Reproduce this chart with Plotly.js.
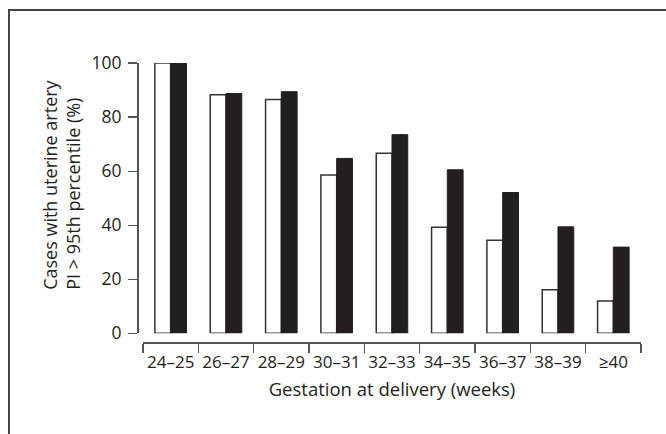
<!DOCTYPE html>
<html>
<head>
<meta charset="utf-8">
<script src="https://cdn.plot.ly/plotly-3.0.1.min.js"></script>
<style>
html,body{margin:0;padding:0;background:#fff;}
#wrap{position:relative;width:666px;height:434px;}
#chart{width:666px;height:434px;}
#frame{position:absolute;left:8px;top:9px;right:0;bottom:0;border-left:2px solid #444;border-top:2px solid #444;pointer-events:none;}
</style>
</head>
<body>
<div id="wrap"><div id="chart"></div><div id="frame"></div></div>
<script>
const categories = ["24–25","26–27","28–29","30–31","32–33","34–35","36–37","38–39","≥40"];
const whiteValues = [100, 88.3, 86.5, 58.6, 66.6, 39.2, 34.4, 16.1, 12.0];
const blackValues = [100, 88.7, 89.4, 64.7, 73.5, 60.5, 52.1, 39.4, 31.9];
const yTicks = [0, 20, 40, 60, 80, 100];
const xTitle = "Gestation at delivery (weeks)";
const yTitle = "Cases with uterine artery<br>PI > 95th percentile (%)";

const tickFont = {family: "Open Sans, Noto Sans, sans-serif", size: 17, color: "#231f20"};
const titleFont = {family: "Open Sans, Noto Sans, sans-serif", size: 18.5, color: "#231f20"};

const traces = [
  {type: "bar", x: categories, y: whiteValues, name: "A",
   marker: {color: "#ffffff", line: {color: "#333333", width: 1.5}}},
  {type: "bar", x: categories, y: blackValues, name: "B",
   marker: {color: "#231f20", line: {color: "#231f20", width: 1}}}
];

const layout = {
  width: 666, height: 434,
  margin: {l: 137, r: 25, t: 63, b: 92},
  paper_bgcolor: "#fff", plot_bgcolor: "#fff",
  showlegend: false,
  barmode: "group", bargap: 0.43, bargroupgap: 0,
  font: tickFont,
  xaxis: {
    type: "category",
    domain: [0.0119, 1],
    range: [-0.5, 8.5],
    anchor: "free", position: 0,
    showline: true, linecolor: "#555", linewidth: 1.5,
    ticks: "outside", ticklen: 9, tickcolor: "#555", tickwidth: 1.2,
    tickson: "boundaries",
    tickangle: 0,
    ticklabelstandoff: 4,
    showgrid: false, zeroline: false,
    tickfont: tickFont,
    title: {text: xTitle, font: titleFont, standoff: 11}
  },
  yaxis: {
    domain: [0.031, 1],
    range: [0, 100],
    anchor: "free", position: 0,
    tickvals: yTicks,
    showline: true, linecolor: "#555", linewidth: 1.5,
    ticks: "outside", ticklen: 9, tickcolor: "#555", tickwidth: 1.2,
    ticklabelstandoff: 3,
    showgrid: false, zeroline: false,
    tickfont: {family: "Open Sans, Noto Sans, sans-serif", size: 17.5, color: "#231f20"}
  },
  annotations: [{
    text: yTitle, textangle: -90, align: "left",
    xref: "paper", yref: "paper", x: -0.149, y: 0.563,
    xanchor: "center", yanchor: "middle", showarrow: false,
    font: {family: "Open Sans, Noto Sans, sans-serif", size: 18, color: "#231f20"}
  }]
};

Plotly.newPlot("chart", traces, layout, {staticPlot: true, displayModeBar: false});
</script>
</body>
</html>
